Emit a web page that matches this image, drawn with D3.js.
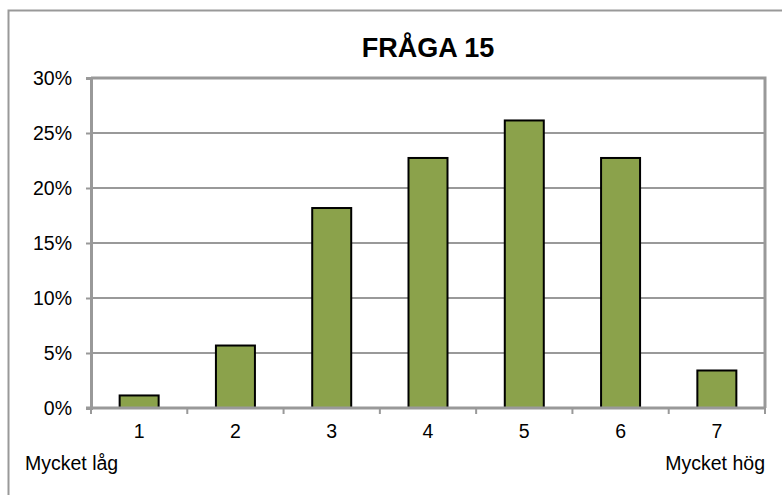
<!DOCTYPE html>
<html>
<head>
<meta charset="utf-8">
<script src="https://cdn.jsdelivr.net/npm/d3@7"></script>
<style>
  body { margin: 0; background: #fff; }
  svg text { font-family: "Liberation Sans", Arial, sans-serif; fill: #000; }
</style>
</head>
<body>
<div id="chart"></div>
<script>
var title = 'FRÅGA 15';
var categories = ['1', '2', '3', '4', '5', '6', '7'];
var shares = [0.0114, 0.0568, 0.1818, 0.2273, 0.2614, 0.2273, 0.0341];
var yTicks = [0, 0.05, 0.10, 0.15, 0.20, 0.25, 0.30];
var endLabels = ['Mycket låg', 'Mycket hög'];

var width = 782, height = 495;
var margin = { top: 78, right: 17, bottom: 87, left: 91 };
var innerW = width - margin.left - margin.right;
var innerH = height - margin.top - margin.bottom;
var labelFont = '19.5px';

var svg = d3.select('#chart').append('svg')
  .attr('width', width)
  .attr('height', height);

// outer chart frame (only top and left edges show in the window)
svg.append('rect')
  .attr('x', 8.5).attr('y', 10.5)
  .attr('width', 800).attr('height', 520)
  .attr('fill', 'none')
  .attr('stroke', '#999')
  .attr('stroke-width', 2);

svg.append('text')
  .attr('x', margin.left + innerW / 2)
  .attr('y', 57)
  .attr('text-anchor', 'middle')
  .style('font-size', '27px')
  .style('font-weight', 'bold')
  .text(title);

var g = svg.append('g')
  .attr('transform', 'translate(' + margin.left + ',' + margin.top + ')');

var x = d3.scaleBand()
  .domain(categories)
  .range([0, innerW])
  .paddingInner(0.595)
  .paddingOuter(0.2975);

var xEdges = d3.scaleLinear()
  .domain([0, categories.length])
  .range([0, innerW]);

var y = d3.scaleLinear()
  .domain([0, 0.30])
  .range([innerH, 0]);

// gridlines
g.append('g')
  .selectAll('line')
  .data(yTicks.slice(1, -1))
  .enter()
  .append('line')
  .attr('x1', 0).attr('x2', innerW)
  .attr('y1', function (d) { return y(d); })
  .attr('y2', function (d) { return y(d); })
  .attr('stroke', '#999')
  .attr('stroke-width', 2);

// plot frame top/right
g.append('path')
  .attr('d', 'M0,' + y(0.30) + 'H' + innerW + 'V' + innerH)
  .attr('fill', 'none')
  .attr('stroke', '#999')
  .attr('stroke-width', 3);

// bars
g.append('g')
  .selectAll('rect')
  .data(shares)
  .enter()
  .append('rect')
  .attr('x', function (d, i) { return x(categories[i]); })
  .attr('y', function (d) { return y(d); })
  .attr('width', x.bandwidth())
  .attr('height', function (d) { return innerH - y(d); })
  .attr('fill', '#8ba24b')
  .attr('stroke', '#000')
  .attr('stroke-width', 2);

// y axis
var yAxis = g.append('g')
  .call(d3.axisLeft(y)
    .tickValues(yTicks)
    .tickSize(5)
    .tickPadding(14)
    .tickFormat(d3.format('.0%')));
yAxis.select('.domain').attr('stroke', '#999').attr('stroke-width', 3);
yAxis.selectAll('.tick line').attr('stroke', '#999').attr('stroke-width', 2);
yAxis.selectAll('.tick text').style('font-size', labelFont).style('font-family', '"Liberation Sans", Arial, sans-serif');

// x axis
var xAxis = g.append('g')
  .attr('transform', 'translate(0,' + innerH + ')')
  .call(d3.axisBottom(x).tickSize(0).tickPadding(16));
xAxis.select('.domain').remove();
xAxis.selectAll('.tick text').style('font-size', labelFont).style('font-family', '"Liberation Sans", Arial, sans-serif');

g.append('line')
  .attr('x1', -5).attr('x2', innerW)
  .attr('y1', innerH).attr('y2', innerH)
  .attr('stroke', '#999')
  .attr('stroke-width', 3);

g.append('g')
  .selectAll('line')
  .data(d3.range(categories.length + 1))
  .enter()
  .append('line')
  .attr('x1', function (d) { return xEdges(d); })
  .attr('x2', function (d) { return xEdges(d); })
  .attr('y1', innerH).attr('y2', innerH + 6)
  .attr('stroke', '#999')
  .attr('stroke-width', 2);

// end labels
svg.append('text')
  .attr('x', 25)
  .attr('y', 470)
  .style('font-size', labelFont)
  .text(endLabels[0]);

svg.append('text')
  .attr('x', 765)
  .attr('y', 470)
  .attr('text-anchor', 'end')
  .style('font-size', labelFont)
  .text(endLabels[1]);
</script>
</body>
</html>
